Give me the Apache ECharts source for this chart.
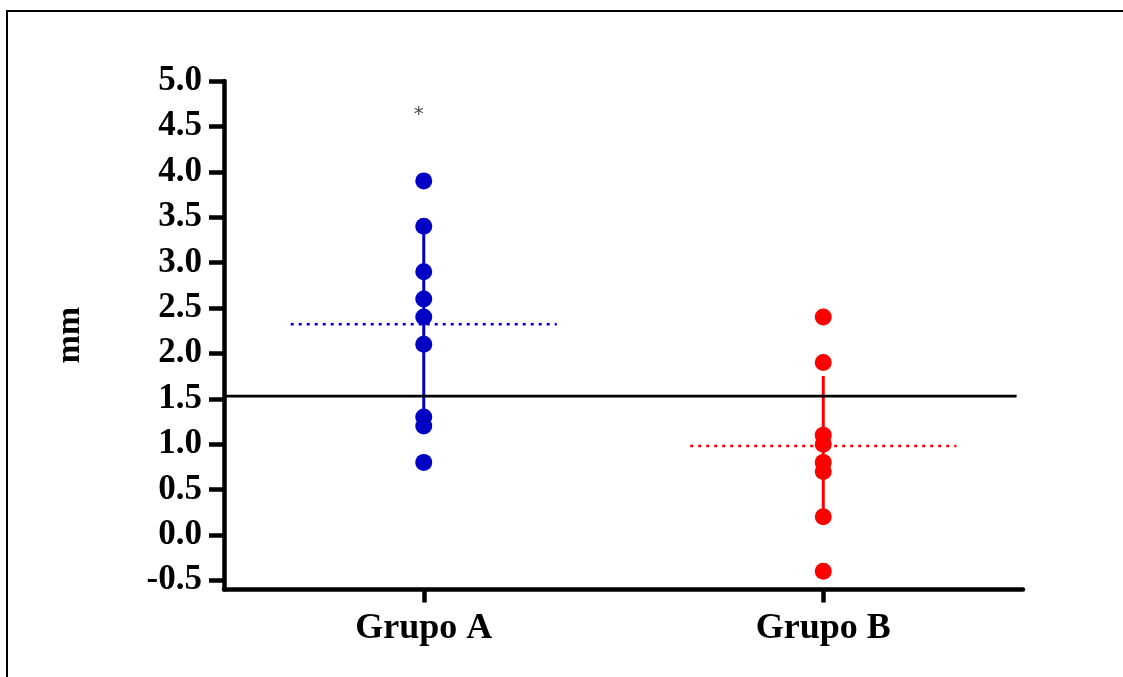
<!DOCTYPE html>
<html>
<head>
<meta charset="utf-8">
<script src="https://cdn.jsdelivr.net/npm/echarts@6/dist/echarts.min.js"></script>
<style>html,body{margin:0;padding:0;background:#fff;}#c{width:1123px;height:677px;}</style>
</head>
<body>
<div id="c"></div>
<script>
const categories = ['Grupo A', 'Grupo B'];
const groupA = [3.9, 3.4, 2.9, 2.6, 2.4, 2.1, 1.3, 1.2, 0.8];
const groupB = [2.4, 1.9, 1.1, 1.0, 0.8, 0.7, 0.2, -0.4];
const meanA = 2.32;
const meanB = 0.98;
const errA = [1.25, 3.32];
const errB = [0.25, 1.75];
const refValue = 1.53;
const yTicks = [-0.5, 0, 0.5, 1.0, 1.5, 2.0, 2.5, 3.0, 3.5, 4.0, 4.5, 5.0];
const starValue = 4.68;

const blue = '#0000c4';
const red = '#ff0000';
const font = 'Liberation Serif';

const chart = echarts.init(document.getElementById('c'));
chart.setOption({
  backgroundColor: '#fff',
  animation: false,
  graphic: [{
    type: 'rect',
    shape: { x: 7, y: 11, width: 1300, height: 900 },
    style: { fill: 'none', stroke: '#000', lineWidth: 2 },
    silent: true
  }],
  grid: { left: 224, right: 100, top: 81, bottom: 87.5 },
  xAxis: [{
    type: 'category',
    data: categories,
    axisLine: { onZero: false, lineStyle: { color: '#000', width: 4.5 } },
    axisTick: { show: true, alignWithLabel: true, length: 13, lineStyle: { color: '#000', width: 4.5 } },
    axisLabel: { color: '#000', fontFamily: font, fontWeight: 'bold', fontSize: 36, margin: 21 },
    splitLine: { show: false }
  }, {
    type: 'value', min: 0, max: 2, show: false
  }],
  yAxis: {
    type: 'value',
    min: -0.6,
    max: 5.0,
    name: 'mm',
    nameLocation: 'middle',
    nameRotate: 90,
    nameGap: 137,
    nameTextStyle: { color: '#000', fontFamily: font, fontWeight: 'bold', fontSize: 34 },
    axisLine: { show: true, onZero: false, lineStyle: { color: '#000', width: 4.5 } },
    axisTick: { show: true, length: 15, customValues: yTicks, lineStyle: { color: '#000', width: 4.5 } },
    axisLabel: {
      customValues: yTicks,
      formatter: v => v.toFixed(1),
      color: '#000', fontFamily: font, fontWeight: 'bold', fontSize: 35, margin: 22
    },
    splitLine: { show: false }
  },
  series: [
    {
      type: 'line', xAxisIndex: 1, symbol: 'none', z: 2,
      lineStyle: { color: blue, width: 3 },
      data: [[0.5, errA[0]], [0.5, errA[1]]]
    },
    {
      type: 'line', xAxisIndex: 1, symbol: 'none', z: 2,
      lineStyle: { color: red, width: 3 },
      data: [[1.5, errB[0]], [1.5, errB[1]]]
    },
    {
      type: 'line', xAxisIndex: 1, symbol: 'none', z: 3,
      lineStyle: { color: blue, width: 2.5, type: [3, 5] },
      data: [[0.167, meanA], [0.833, meanA]]
    },
    {
      type: 'line', xAxisIndex: 1, symbol: 'none', z: 3,
      lineStyle: { color: red, width: 2.5, type: [3, 5] },
      data: [[1.167, meanB], [1.833, meanB]]
    },
    {
      type: 'line', xAxisIndex: 1, symbol: 'none', z: 4,
      lineStyle: { color: '#000', width: 2.7 },
      data: [[0, refValue], [1.984, refValue]]
    },
    {
      type: 'scatter', z: 5, symbolSize: 17,
      itemStyle: { color: blue, opacity: 1 },
      data: groupA.map(v => [categories[0], v])
    },
    {
      type: 'scatter', z: 5, symbolSize: 17,
      itemStyle: { color: red, opacity: 1 },
      data: groupB.map(v => [categories[1], v])
    },
    {
      type: 'scatter', z: 6, symbolSize: 1,
      itemStyle: { color: 'rgba(0,0,0,0)' },
      label: {
        show: true, position: 'inside', formatter: '*', offset: [-5, 5],
        color: '#111', fontFamily: 'DejaVu Sans', fontSize: 20
      },
      data: [[categories[0], starValue]]
    }
  ]
});
</script>
</body>
</html>
